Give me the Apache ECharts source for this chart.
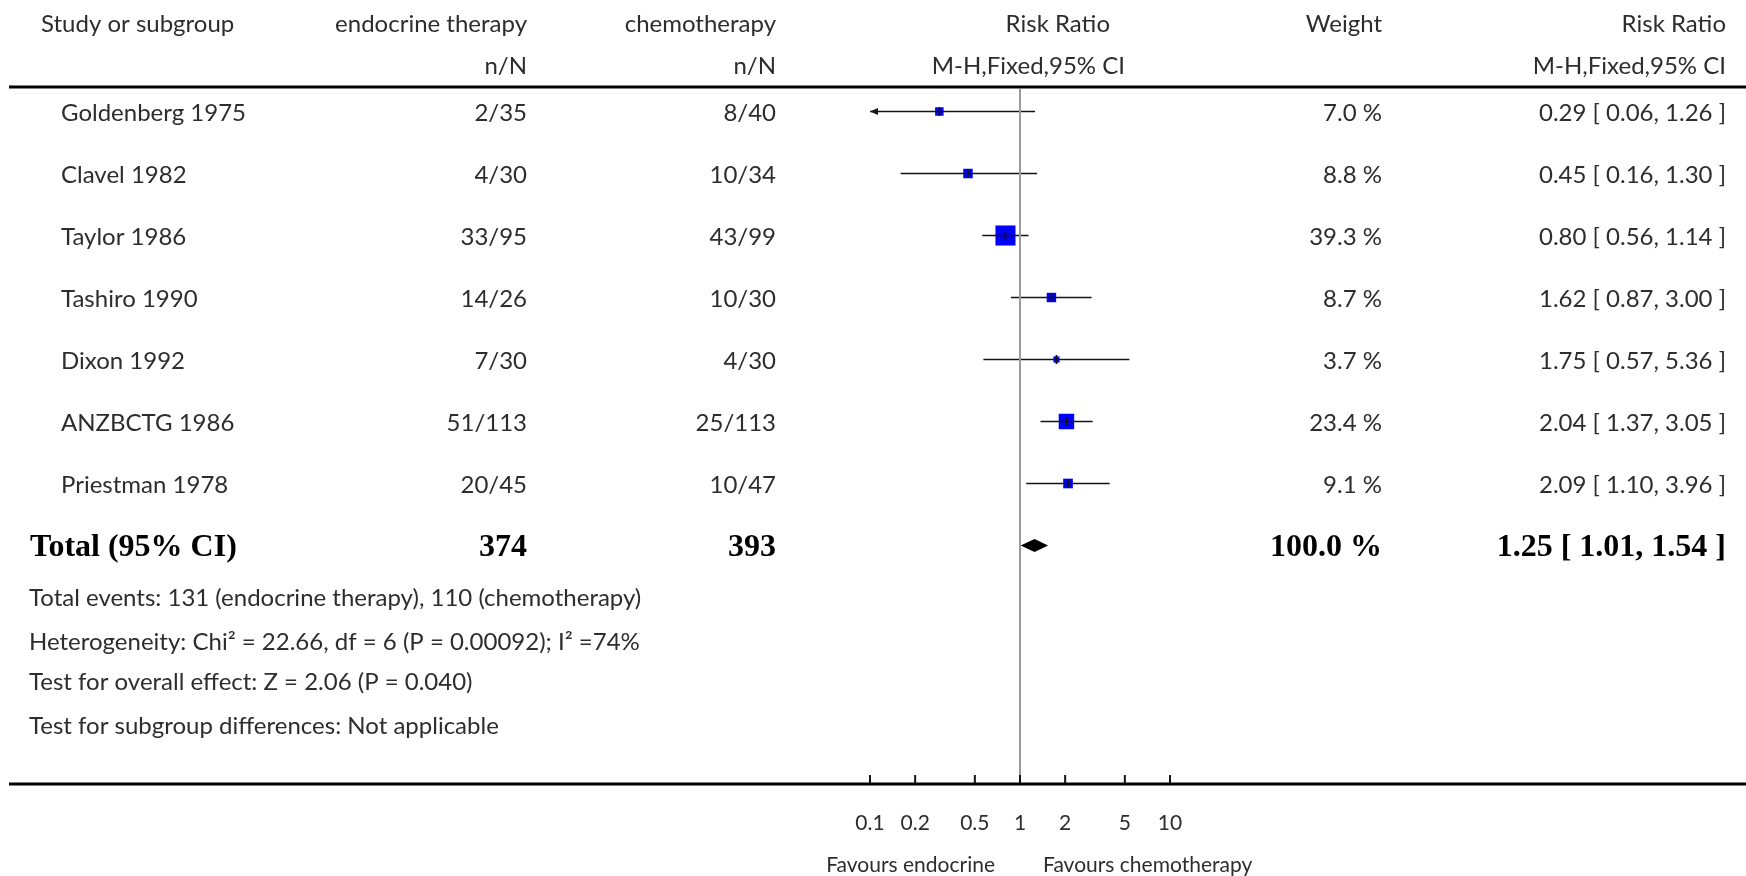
<!DOCTYPE html>
<html>
<head>
<meta charset="utf-8">
<script src="https://cdn.jsdelivr.net/npm/echarts@6/dist/echarts.min.js"></script>
<style>
  html, body { margin: 0; padding: 0; background: #ffffff; }
  #chart { width: 1746px; height: 876px; }
</style>
</head>
<body>
<div id="chart"></div>
<script>
// ---- Study data (risk ratio, Mantel-Haenszel fixed effect) ----
const studies      = ['Goldenberg 1975', 'Clavel 1982', 'Taylor 1986', 'Tashiro 1990', 'Dixon 1992', 'ANZBCTG 1986', 'Priestman 1978'];
const endoEvents   = [2, 4, 33, 14, 7, 51, 20];
const endoTotal    = [35, 30, 95, 26, 30, 113, 45];
const chemoEvents  = [8, 10, 43, 10, 4, 25, 10];
const chemoTotal   = [40, 34, 99, 30, 30, 113, 47];
const weights      = [7.0, 8.8, 39.3, 8.7, 3.7, 23.4, 9.1];
const riskRatio    = [0.29, 0.45, 0.80, 1.62, 1.75, 2.04, 2.09];
const ciLower      = [0.06, 0.16, 0.56, 0.87, 0.57, 1.37, 1.10];
const ciUpper      = [1.26, 1.30, 1.14, 3.00, 5.36, 3.05, 3.96];

// ---- Pooled estimate and test statistics ----
const pooledRR     = 1.25;
const pooledLower  = 1.01;
const pooledUpper  = 1.54;
const pooledWeight = 100.0;
const chiSquare    = '22.66';
const chiDf        = 6;
const chiP         = '0.00092';
const iSquared     = 74;
const zValue       = '2.06';
const zP           = '0.040';

// ---- Axis ticks ----
const tickValues = [0.1, 0.2, 0.5, 1, 2, 5, 10];
const tickLabels = ['0.1', '0.2', '0.5', '1', '2', '5', '10'];

// ---- Layout and style ----
const X_MIN = 0.1, X_MAX = 10;
const TEXT_COLOR = '#2d2d2d';
const REG_FAMILY = 'Lato, "Open Sans", sans-serif';
const REG_FONT = '24px ' + REG_FAMILY;
const SMALL_FONT = '21px ' + REG_FAMILY;
const BOLD_FONT = 'bold 32px "Liberation Serif", "DejaVu Serif", serif';
const COL_NAME = 61, COL_TOTAL = 30, COL_ENDO = 527, COL_CHEMO = 776, COL_WEIGHT = 1382, COL_CI = 1726;
const TEXT_DY = 2;

const sum = arr => arr.reduce((a, b) => a + b, 0);
const fmtCI = (rr, lo, hi) => rr.toFixed(2) + ' [ ' + lo.toFixed(2) + ', ' + hi.toFixed(2) + ' ]';

function textEl(text, x, y, align, font, fill) {
  return {
    type: 'text',
    style: {
      text: text, x: x, y: y, font: font || REG_FONT, fill: fill || TEXT_COLOR,
      align: align, verticalAlign: 'middle', textAlign: align, textVerticalAlign: 'middle'
    }
  };
}

// One table row per study plus the total row, placed on the plot's row scale
function renderTableRow(params, api) {
  const i = params.dataIndex;
  const y = api.coord([1, api.value(1)])[1] + TEXT_DY;
  let cells;
  if (i < studies.length) {
    cells = [
      textEl(studies[i], COL_NAME, y, 'left'),
      textEl(endoEvents[i] + '/' + endoTotal[i], COL_ENDO, y, 'right'),
      textEl(chemoEvents[i] + '/' + chemoTotal[i], COL_CHEMO, y, 'right'),
      textEl(weights[i].toFixed(1) + ' %', COL_WEIGHT, y, 'right'),
      textEl(fmtCI(riskRatio[i], ciLower[i], ciUpper[i]), COL_CI, y, 'right')
    ];
  } else {
    cells = [
      textEl('Total (95% CI)', COL_TOTAL, y, 'left', BOLD_FONT, '#000'),
      textEl(String(sum(endoTotal)), COL_ENDO, y, 'right', BOLD_FONT, '#000'),
      textEl(String(sum(chemoTotal)), COL_CHEMO, y, 'right', BOLD_FONT, '#000'),
      textEl(pooledWeight.toFixed(1) + ' %', COL_WEIGHT, y, 'right', BOLD_FONT, '#000'),
      textEl(fmtCI(pooledRR, pooledLower, pooledUpper), COL_CI, y, 'right', BOLD_FONT, '#000')
    ];
  }
  return { type: 'group', children: cells };
}

// Confidence interval whisker, point-estimate tick, arrow when clipped at the axis limit
function renderCI(params, api) {
  const lo = api.value(0), hi = api.value(1), row = api.value(2), est = api.value(3);
  const p1 = api.coord([Math.max(lo, X_MIN), row]);
  const p2 = api.coord([Math.min(hi, X_MAX), row]);
  const pe = api.coord([est, row]);
  const stroke = { stroke: '#141414', lineWidth: 1.7 };
  const children = [
    { type: 'line', shape: { x1: p1[0], y1: p1[1], x2: p2[0], y2: p2[1] }, style: stroke },
    { type: 'line', shape: { x1: pe[0], y1: pe[1] - 4.5, x2: pe[0], y2: pe[1] + 4.5 }, style: stroke }
  ];
  if (lo < X_MIN) {
    children.push({ type: 'polygon', shape: { points: [[p1[0], p1[1]], [p1[0] + 8, p1[1] - 3.5], [p1[0] + 8, p1[1] + 3.5]] }, style: { fill: '#141414' } });
  }
  if (hi > X_MAX) {
    children.push({ type: 'polygon', shape: { points: [[p2[0], p2[1]], [p2[0] - 8, p2[1] - 3.5], [p2[0] - 8, p2[1] + 3.5]] }, style: { fill: '#141414' } });
  }
  return { type: 'group', children: children };
}

// Pooled estimate diamond
function renderDiamond(params, api) {
  const lo = api.coord([api.value(0), api.value(2)]);
  const hi = api.coord([api.value(1), api.value(2)]);
  const mid = api.coord([api.value(3), api.value(2)]);
  const h = 6.5;
  return {
    type: 'polygon',
    shape: { points: [[lo[0], lo[1]], [mid[0], mid[1] - h], [hi[0], hi[1]], [mid[0], mid[1] + h]] },
    style: { fill: '#000' }
  };
}

// Tick marks and labels of the log axis
function renderTick(params, api) {
  const v = api.value(0);
  const x = api.coord([v, 0])[0];
  const yb = params.coordSys.y + params.coordSys.height;
  return {
    type: 'group',
    children: [
      { type: 'line', shape: { x1: x, y1: yb - 9, x2: x, y2: yb }, style: { stroke: '#141414', lineWidth: 2 } },
      textEl(tickLabels[params.dataIndex], x, yb + 39, 'center', SMALL_FONT)
    ]
  };
}

const rowIndex = studies.map((_, i) => i);
const totalRow = studies.length;

const chart = echarts.init(document.getElementById('chart'), null, { renderer: 'canvas' });

chart.setOption({
  animation: false,
  backgroundColor: '#ffffff',
  grid: { left: 870, width: 300, top: 89, bottom: 92, containLabel: false },
  xAxis: {
    type: 'log', logBase: 10, min: X_MIN, max: X_MAX,
    axisLine: { show: false }, axisTick: { show: false }, axisLabel: { show: false }, splitLine: { show: false }
  },
  yAxis: {
    type: 'value', inverse: true, min: -0.363, max: 10.847, show: false,
    axisLine: { show: false }, axisTick: { show: false }, axisLabel: { show: false }, splitLine: { show: false }
  },
  series: [
    {
      name: 'weight boxes', type: 'scatter', silent: true, z: 3,
      symbol: 'rect',
      symbolSize: d => 3.2 * Math.sqrt(d[2]),
      itemStyle: { color: '#0000ff', opacity: 1 },
      data: rowIndex.map(i => [riskRatio[i], i, weights[i]]),
      markLine: {
        silent: true, symbol: ['none', 'none'], label: { show: false },
        lineStyle: { color: '#9a9a9a', width: 2, type: 'solid' },
        data: [{ xAxis: 1 }]
      }
    },
    {
      name: 'intervals', type: 'custom', silent: true, z: 4,
      renderItem: renderCI,
      data: rowIndex.map(i => [ciLower[i], ciUpper[i], i, riskRatio[i]])
    },
    {
      name: 'pooled', type: 'custom', silent: true, z: 4,
      renderItem: renderDiamond,
      data: [[pooledLower, pooledUpper, totalRow, pooledRR]]
    },
    {
      name: 'table', type: 'custom', silent: true, z: 5,
      renderItem: renderTableRow,
      data: rowIndex.concat([totalRow]).map(i => [1, i])
    },
    {
      name: 'ticks', type: 'custom', silent: true, z: 5,
      renderItem: renderTick,
      data: tickValues.map(v => [v, 0])
    }
  ],
  graphic: {
    elements: [
      // header
      textEl('Study or subgroup', 41, 24, 'left'),
      textEl('endocrine therapy', COL_ENDO, 24, 'right'),
      textEl('n/N', COL_ENDO, 66, 'right'),
      textEl('chemotherapy', COL_CHEMO, 24, 'right'),
      textEl('n/N', COL_CHEMO, 66, 'right'),
      textEl('Risk Ratio', 1110, 24, 'right'),
      textEl('M-H,Fixed,95% CI', 1125, 66, 'right'),
      textEl('Weight', COL_WEIGHT, 24, 'right'),
      textEl('Risk Ratio', COL_CI, 24, 'right'),
      textEl('M-H,Fixed,95% CI', COL_CI, 66, 'right'),
      // rules
      { type: 'line', z: 10, shape: { x1: 9, y1: 87, x2: 1746, y2: 87 }, style: { stroke: '#000', lineWidth: 3 } },
      { type: 'line', z: 10, shape: { x1: 9, y1: 784, x2: 1746, y2: 784 }, style: { stroke: '#000', lineWidth: 3 } },
      // summary statistics
      textEl('Total events: ' + sum(endoEvents) + ' (endocrine therapy), ' + sum(chemoEvents) + ' (chemotherapy)', 29, 598, 'left'),
      textEl('Heterogeneity: Chi\u00b2 = ' + chiSquare + ', df = ' + chiDf + ' (P = ' + chiP + '); I\u00b2 =' + iSquared + '%', 29, 642, 'left'),
      textEl('Test for overall effect: Z = ' + zValue + ' (P = ' + zP + ')', 29, 682, 'left'),
      textEl('Test for subgroup differences: Not applicable', 29, 726, 'left'),
      // direction labels
      textEl('Favours endocrine', 995, 865, 'right', SMALL_FONT),
      textEl('Favours chemotherapy', 1043, 865, 'left', SMALL_FONT)
    ]
  }
});
</script>
</body>
</html>
